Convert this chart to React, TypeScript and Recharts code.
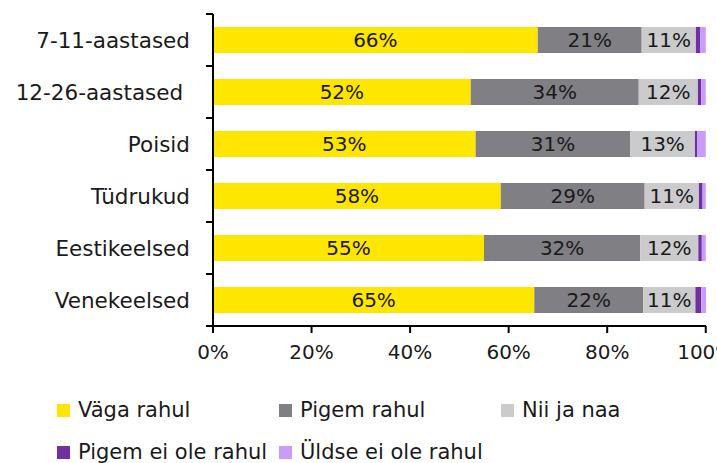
import { BarChart, Bar, XAxis, YAxis, LabelList } from 'recharts'

// ─── Datos ────────────────────────────────────────────────────────────────────

const categorias = ['7-11-aastased', '12-26-aastased ', 'Poisid', 'Tüdrukud', 'Eestikeelsed', 'Venekeelsed']
const vagaRahul  = [65.9, 52.3, 53.3, 58.4, 55.0, 65.2]
const pigemRahul = [21.1, 34.1, 31.4, 29.2, 31.7, 22.1]
const niiJaNaa   = [11.0, 12.0, 13.1, 11.0, 11.8, 10.6]
const pigemEiOle = [0.9, 0.7, 0.5, 0.75, 0.7, 1.15]
const uldseEiOle = [1.1, 0.9, 1.7, 0.65, 0.8, 1.0]
const xTicks     = [0, 20, 40, 60, 80, 100]

const SERIES = [
  { key: 'vaga',  name: 'Väga rahul',         color: '#FFE600', label: true },
  { key: 'pigem', name: 'Pigem rahul',        color: '#807F84', label: true },
  { key: 'nii',   name: 'Nii ja naa',         color: '#CBCBCE', label: true },
  { key: 'pei',   name: 'Pigem ei ole rahul', color: '#7030A0', label: false },
  { key: 'uei',   name: 'Üldse ei ole rahul', color: '#C99CF8', label: false },
]

const data = categorias.map((cat, i) => ({
  cat,
  vaga: vagaRahul[i],
  pigem: pigemRahul[i],
  nii: niiJaNaa[i],
  pei: pigemEiOle[i],
  uei: uldseEiOle[i],
}))

const FONT = '"DejaVu Sans", sans-serif'
const INK = '#1a1a1a'

// ─── Tick de categorías (marcas en los límites de banda) ─────────────────────

function CatTick(props: any) {
  const { x, y, payload, index, visibleTicksCount } = props
  const half = payload?.offset ?? 26
  const axisX = x + 23
  return (
    <g>
      <line x1={axisX - 7} x2={axisX} y1={y - half} y2={y - half} stroke="#000" strokeWidth={2} />
      {index === visibleTicksCount - 1 && (
        <line x1={axisX - 7} x2={axisX} y1={y + half} y2={y + half} stroke="#000" strokeWidth={2} />
      )}
      <text
        x={x}
        y={y}
        dy="0.35em"
        textAnchor="end"
        fill={INK}
        fontSize={21.5}
        fontFamily={FONT}
        style={{ whiteSpace: 'pre' }}
      >
        {payload.value}
      </text>
    </g>
  )
}

export default function App() {
  return (
    <div style={{ position: 'absolute', left: 0, top: 0, width: 717, height: 463, background: '#fff', overflow: 'hidden' }}>
      <BarChart
        width={717}
        height={380}
        data={data}
        layout="vertical"
        margin={{ top: 14, right: 11, bottom: 0, left: 0 }}
        barCategoryGap="25%"
      >
        <XAxis
          type="number"
          domain={[0, 100]}
          ticks={xTicks}
          tickFormatter={(v: number) => `${v}%`}
          height={54}
          axisLine={{ stroke: '#000', strokeWidth: 2 }}
          tickLine={{ stroke: '#000', strokeWidth: 2 }}
          tickSize={7}
          tickMargin={12}
          tick={{ fill: INK, fontSize: 20, fontFamily: FONT }}
          interval={0}
        />
        <YAxis
          type="category"
          dataKey="cat"
          width={213}
          axisLine={{ stroke: '#000', strokeWidth: 2 }}
          tickLine={false}
          tickSize={7}
          tickMargin={16}
          tick={<CatTick />}
          interval={0}
        />
        {SERIES.map(s => (
          <Bar key={s.key} dataKey={s.key} stackId="a" fill={s.color} name={s.name} isAnimationActive={false}>
            {s.label && (
              <LabelList
                dataKey={s.key}
                position="center"
                formatter={(v: any) => `${Math.round(Number(v))}%`}
                fill={INK}
                fontSize={20}
                fontFamily={FONT}
              />
            )}
          </Bar>
        ))}
      </BarChart>

      {/* Leyenda manual */}
      <div
        style={{
          position: 'absolute',
          left: 57,
          top: 389,
          width: 666,
          display: 'flex',
          flexWrap: 'wrap',
          fontFamily: FONT,
          fontSize: 21,
          color: INK,
        }}
      >
        {SERIES.map(s => (
          <div key={s.key} style={{ width: 222, height: 42, display: 'flex', alignItems: 'center' }}>
            <span style={{ width: 13, height: 13, background: s.color, marginRight: 8, flexShrink: 0 }} />
            <span style={{ whiteSpace: 'nowrap' }}>{s.name}</span>
          </div>
        ))}
      </div>
    </div>
  )
}
